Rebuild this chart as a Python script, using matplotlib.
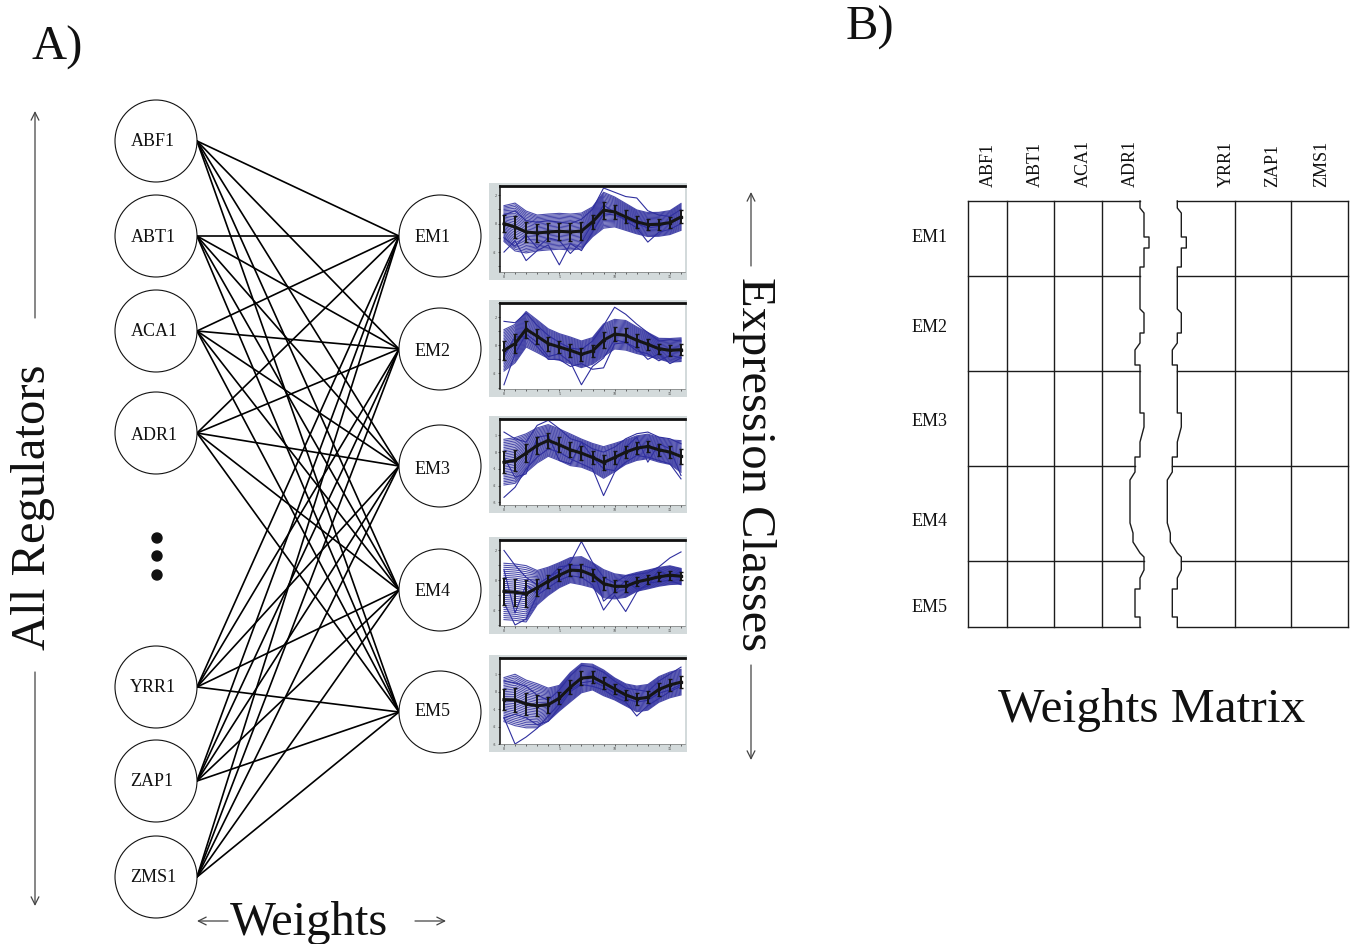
import numpy as np
import matplotlib
matplotlib.use("Agg")
import matplotlib.pyplot as plt
from matplotlib.patches import Circle, Rectangle

plt.rcParams['font.family'] = ['Liberation Serif', 'DejaVu Serif']

# ---------------- data ----------------
regulators = ["ABF1", "ABT1", "ACA1", "ADR1", "YRR1", "ZAP1", "ZMS1"]
modules = ["EM1", "EM2", "EM3", "EM4", "EM5"]
time_points = list(range(17))

# mean expression profile of each module
mean_em1 = [0.0, -0.24, -0.59, -0.66, -0.59, -0.54, -0.59, -0.52, 0.12, 0.94, 0.82, 0.47, 0.12, -0.07, -0.05, 0.07, 0.47]
mean_em2 = [-0.36, 0.12, 1.14, 0.64, 0.12, -0.12, -0.36, -0.64, -0.40, 0.36, 0.79, 0.71, 0.36, 0.07, -0.24, -0.36, -0.31]
mean_em3 = [-0.60, -0.50, -0.06, 0.40, 0.70, 0.44, 0.14, -0.06, -0.32, -0.62, -0.32, 0.0, 0.24, 0.34, 0.14, 0.0, -0.26]
mean_em4 = [-0.75, -0.80, -0.91, -0.50, -0.07, 0.34, 0.68, 0.64, 0.34, -0.23, -0.41, -0.41, -0.11, 0.05, 0.23, 0.34, 0.27]
mean_em5 = [-0.46, -0.48, -0.71, -0.81, -0.75, -0.38, 0.25, 0.77, 0.83, 0.50, 0.15, -0.19, -0.42, -0.33, 0.12, 0.38, 0.54]

# standard deviation at each time point
std_em1 = [0.6, 0.8, 0.7, 0.6, 0.6, 0.6, 0.6, 0.6, 0.5, 0.6, 0.5, 0.45, 0.4, 0.4, 0.4, 0.4, 0.45]
std_em2 = [0.7, 0.65, 0.6, 0.55, 0.5, 0.45, 0.45, 0.45, 0.45, 0.55, 0.5, 0.5, 0.45, 0.4, 0.35, 0.4, 0.4]
std_em3 = [0.65, 0.65, 0.55, 0.5, 0.45, 0.45, 0.45, 0.4, 0.4, 0.45, 0.4, 0.35, 0.35, 0.35, 0.35, 0.35, 0.45]
std_em4 = [0.9, 0.9, 0.9, 0.55, 0.45, 0.4, 0.4, 0.45, 0.4, 0.45, 0.4, 0.35, 0.3, 0.3, 0.3, 0.3, 0.25]
std_em5 = [0.6, 0.7, 0.65, 0.6, 0.45, 0.35, 0.4, 0.4, 0.35, 0.35, 0.3, 0.3, 0.35, 0.35, 0.35, 0.35, 0.35]

# individual gene profiles that stray from the module band
outliers_em1 = [
    [-2.0, -1.2, -2.6, -1.9, -1.5, -2.9, -1.4, -1.9, -0.6, 0.7, 0.6, 0.3, 0.0, -0.3, -0.2, 0.1, 0.4],
    [0.6, 0.9, 0.2, 0.1, 0.2, 0.1, 0.0, 0.3, 1.0, 2.5, 2.2, 1.9, 1.8, 0.9, 0.6, 0.5, 1.0],
    [-1.0, -1.6, -0.8, -1.7, -1.0, -1.2, -2.1, -1.3, 0.0, 1.3, 0.8, 0.2, -0.3, -1.3, -0.6, -0.4, 0.0],
]
outliers_em2 = [
    [-2.8, -0.6, 0.8, 0.2, -0.8, -0.6, -1.2, -2.8, -1.5, -0.9, 0.4, 0.2, -0.4, -0.6, -1.1, -0.7, -0.9],
    [1.7, 1.6, 2.3, 1.4, 0.7, 0.2, -0.2, -0.3, 0.3, 1.4, 2.7, 2.2, 1.5, 0.9, 0.3, 0.4, 0.3],
    [-0.8, 0.6, 0.6, -0.1, -1.0, -1.0, -1.5, -1.3, -1.7, -1.6, 0.1, 0.2, -0.2, -1.0, -0.6, -1.3, -0.9],
]
outliers_em3 = [
    [-2.7, -2.1, -1.0, -0.3, 0.2, 0.0, -0.4, -0.7, -1.0, -2.6, -1.2, -0.6, -0.2, -0.3, -0.5, -0.7, -1.6],
    [1.2, 0.8, 0.6, 1.6, 1.9, 1.4, 0.8, 0.6, 0.2, 0.0, 0.3, 0.8, 1.1, 1.2, 0.9, 0.8, 0.5],
    [-0.3, -1.5, -1.3, 0.9, 1.0, -0.5, -0.7, 0.6, -0.3, -1.0, -1.1, 0.3, 0.9, -0.6, 0.5, 0.2, -1.4],
]
outliers_em4 = [
    [2.0, 1.0, 0.2, -0.3, 0.2, 0.6, 1.2, 2.6, 1.2, 0.2, -0.2, 0.3, 0.4, 0.5, 0.9, 1.5, 1.9],
    [-1.5, -3.0, -2.6, -1.0, -0.5, 0.0, 0.3, 0.2, -0.3, -2.0, -1.0, -2.1, -0.8, -0.2, -0.1, 0.0, -0.3],
    [0.7, -2.2, -0.3, -0.9, 0.1, 0.9, 1.0, 1.0, 0.8, -1.4, -0.8, 0.0, -0.6, -0.4, 0.7, 0.2, 0.6],
]
outliers_em5 = [
    [-1.5, -3.0, -2.6, -2.1, -1.4, -0.7, 0.1, 0.5, 0.6, 0.3, -0.1, -0.4, -0.6, -0.5, -0.1, 0.1, 0.4],
    [0.6, 0.5, 0.3, -0.2, -0.5, 0.1, 0.9, 1.5, 1.4, 1.1, 0.6, 0.2, 0.1, 0.0, 0.6, 1.0, 1.4],
    [-1.5, -1.3, -1.5, -1.9, -1.7, -0.9, 0.0, 0.4, 0.3, 0.1, -0.3, -0.6, -1.4, -0.8, -0.4, 0.0, 0.3],
]

# spread of the gene band, in units of standard deviation
band_levels = [-2.1, -1.95, -1.8, -1.65, -1.5, -1.35, -1.2, -1.05, -0.9, -0.75, -0.6, -0.45,
               -0.3, -0.15, 0.0, 0.15, 0.3, 0.45, 0.6, 0.75, 0.9, 1.05, 1.2, 1.35, 1.5,
               1.65, 1.8, 1.95, 2.1]

y_limits = [(-3.4, 2.64), (-3.1, 3.0), (-3.16, 1.98), (-3.07, 2.7), (-3.0, 1.92)]
y_labelled = [[-2, 0, 2], [-2, 0, 2], [-3, -2, -1, 0, 1], [-2, 0, 2], [-3, -2, -1, 0, 1]]
x_labelled = [0, 5, 10, 15]

matrix_cols_left = ["ABF1", "ABT1", "ACA1", "ADR1"]
matrix_cols_right = ["YRR1", "ZAP1", "ZMS1"]

# ---------------- layout (pixels) ----------------
W, H = 1351, 944
fig = plt.figure(figsize=(W / 100, H / 100), dpi=100)
ax = fig.add_axes([0, 0, 1, 1])
ax.set_xlim(0, W)
ax.set_ylim(H, 0)
ax.axis("off")

INK = "#111111"
reg_x, node_r = 156, 41
reg_y = [141, 236, 331, 433, 687, 781, 877]
reg_label_xy = [(153, 142), (153, 237), (154, 332), (154, 436), (153, 688), (152, 782), (153, 877)]
em_x = 440
em_y = [236, 349, 466, 590, 712]
em_label_xy = [(433, 237), (433, 351), (433, 469), (433, 592), (433, 711)]

# edges: every regulator feeds every expression module
for ry in reg_y:
    for ey in em_y:
        ax.plot([reg_x + node_r, em_x - node_r], [ry, ey], color="#000000", lw=1.2,
                solid_capstyle="round", zorder=1)

for (ry, lab, (lx, ly)) in zip(reg_y, regulators, reg_label_xy):
    ax.add_patch(Circle((reg_x, ry), node_r, facecolor="white", edgecolor=INK, lw=0.8, zorder=2))
    ax.text(lx, ly, lab, fontsize=13, ha="center", va="center", color=INK, zorder=3)

for (ey, lab, (lx, ly)) in zip(em_y, modules, em_label_xy):
    ax.add_patch(Circle((em_x, ey), node_r, facecolor="white", edgecolor=INK, lw=0.8, zorder=2))
    ax.text(lx, ly, lab, fontsize=13, ha="center", va="center", color=INK, zorder=3)

for dy in [538, 556, 575]:
    ax.add_patch(Circle((157, dy), 5, facecolor=INK, edgecolor=INK, zorder=3))

# panel letters and axis titles
ax.text(31, 60, "A)", fontsize=35, ha="left", va="baseline", color=INK)
ax.text(846, 40, "B)", fontsize=35, ha="left", va="baseline", color=INK)
ax.text(45, 507, "All Regulators", fontsize=35, rotation=90, rotation_mode="anchor",
        ha="center", va="baseline", color=INK)
ax.text(742, 464, "Expression Classes", fontsize=35, rotation=-90, rotation_mode="anchor",
        ha="center", va="baseline", color=INK)
ax.text(230, 935, "Weights", fontsize=35, ha="left", va="baseline", color=INK)
ax.text(998, 722, "Weights Matrix", fontsize=35.5, ha="left", va="baseline", color=INK)

ARROW = "#444444"
def arrow(tail, head):
    ax.annotate("", xy=head, xytext=tail,
                arrowprops=dict(arrowstyle="->", lw=0.9, color=ARROW, mutation_scale=14,
                                shrinkA=0, shrinkB=0))

arrow((35, 318), (35, 111))
arrow((35, 672), (35, 906))
arrow((751, 266), (751, 192))
arrow((751, 665), (751, 760))
arrow((228, 921), (197, 921))
arrow((415, 921), (446, 921))

# ---------------- expression profile panels ----------------
means = [mean_em1, mean_em2, mean_em3, mean_em4, mean_em5]
stds = [std_em1, std_em2, std_em3, std_em4, std_em5]
outliers = [outliers_em1, outliers_em2, outliers_em3, outliers_em4, outliers_em5]
panel_tops = [183, 300, 416, 537, 655]
BLUE = "#2f2f9e"
t = np.array(time_points)

for k, top in enumerate(panel_tops):
    ax.add_patch(Rectangle((489, top), 198, 97, facecolor="#d3dadb", edgecolor="none", zorder=1))
    left, right = 500, 685
    y0, y1 = top + 3, top + 89
    pax = fig.add_axes([left / W, 1 - y1 / H, (right - left) / W, (y1 - y0) / H])
    pax.set_facecolor("white")
    m = np.array(means[k])
    s = np.array(stds[k])
    for lv in band_levels:
        pax.plot(t, m + lv * s, color=BLUE, lw=0.8, alpha=0.85)
    for prof in outliers[k]:
        pax.plot(t, prof, color=BLUE, lw=0.8)
    pax.errorbar(t, m, yerr=s, color="#151515", lw=2.2, elinewidth=1.4, capsize=1.2,
                 marker="s", ms=2.0)
    pax.set_xlim(-0.36, 16.36)
    pax.set_ylim(*y_limits[k])
    pax.set_xticks(time_points)
    pax.set_xticklabels([str(v) if v in x_labelled else "" for v in time_points])
    lo, hi = int(np.ceil(y_limits[k][0])), int(np.floor(y_limits[k][1]))
    yt = list(range(lo, hi + 1))
    pax.set_yticks(yt)
    pax.set_yticklabels([str(v) if v in y_labelled[k] else "" for v in yt])
    pax.tick_params(labelsize=3, length=1.5, width=0.5, pad=1, colors="#333333")
    pax.spines["top"].set_linewidth(2.0)
    pax.spines["top"].set_color("#111111")
    pax.spines["left"].set_linewidth(1.1)
    pax.spines["left"].set_color("#111111")
    pax.spines["bottom"].set_linewidth(0.5)
    pax.spines["bottom"].set_color("#777777")
    pax.spines["right"].set_visible(False)

# ---------------- weights matrix ----------------
col_edges_left = [968, 1006.5, 1054, 1101.5]
col_edges_right = [1234.5, 1291, 1348]
row_edges = [201, 276, 371, 466, 561, 627]
gap = 37.3
# torn edge of the left block (x, y); the right block repeats it shifted by the gap
torn_x = [1140, 1140, 1144, 1144, 1149, 1149, 1144, 1144, 1140, 1140, 1144, 1144, 1140, 1140,
          1135, 1135, 1140, 1140, 1144, 1144, 1140, 1140, 1135, 1135, 1130, 1130, 1133, 1133,
          1140, 1144, 1144, 1140, 1140, 1135, 1135, 1140, 1140]
torn_y = [201, 208, 213, 237, 237, 248, 248, 267, 267, 309, 313, 333, 333, 343,
          350, 365, 365, 413, 413, 427, 442, 457, 457, 472, 480, 523, 533, 542,
          553, 557, 570, 578, 589, 589, 617, 617, 627]
MLINE = "#1c1c1c"
torn_x = np.array(torn_x, dtype=float)
torn_y = np.array(torn_y, dtype=float)
ax.plot(torn_x, torn_y, color=MLINE, lw=1.0)
ax.plot(torn_x + gap, torn_y, color=MLINE, lw=1.0)

def edge_at(y):
    return float(np.interp(y, torn_y, torn_x))

for ry in row_edges:
    ex = edge_at(ry)
    ax.plot([col_edges_left[0], ex], [ry, ry], color=MLINE, lw=1.0)
    ax.plot([ex + gap, col_edges_right[-1]], [ry, ry], color=MLINE, lw=1.0)
for cx in col_edges_left:
    ax.plot([cx, cx], [row_edges[0], row_edges[-1]], color=MLINE, lw=1.0)
for cx in col_edges_right:
    ax.plot([cx, cx], [row_edges[0], row_edges[-1]], color=MLINE, lw=1.0)

col_label_x = [987, 1034, 1081.5, 1129, 1225, 1271.5, 1320]
for lab, cx in zip(matrix_cols_left + matrix_cols_right, col_label_x):
    ax.text(cx + 6, 187, lab, fontsize=13, rotation=90, rotation_mode="anchor",
            ha="left", va="baseline", color=INK)

row_label_y = [238, 328, 422, 521, 607]
for lab, ry in zip(modules, row_label_y):
    ax.text(912, ry, lab, fontsize=13, ha="left", va="center", color=INK)

fig.savefig("out.png", dpi=100, facecolor="white")
